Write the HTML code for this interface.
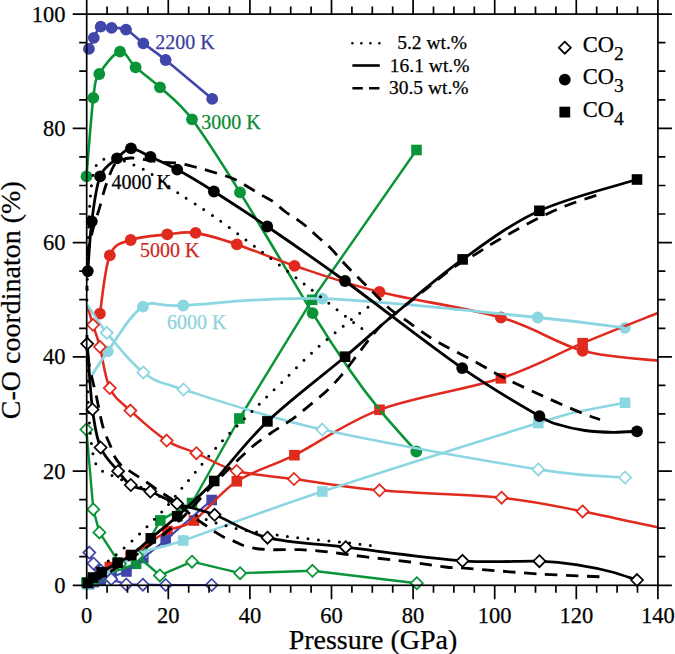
<!DOCTYPE html>
<html><head><meta charset="utf-8"><title>C-O coordination</title>
<style>
html,body{margin:0;padding:0;background:#fff;}
body{width:675px;height:654px;overflow:hidden;}
svg{display:block;}
text{font-family:"Liberation Serif",serif;stroke-width:0.25px;}
text:not([stroke]){stroke:#000;}
.tl{font-size:22.5px;}
.at{font-size:28px;}
.tk{font-size:20px;}
.lg{font-size:19.5px;}
.co{font-size:22.5px;}
.sub{font-size:19.5px;}
</style></head>
<body>
<svg width="675" height="654" viewBox="0 0 675 654">
<rect x="82.3" y="577.7" width="10.6" height="10.6" fill="#e02a1e"/><rect x="87.7" y="573.7" width="10.6" height="10.6" fill="#e02a1e"/><rect x="94.6" y="568.7" width="10.6" height="10.6" fill="#e02a1e"/><rect x="104.5" y="561.7" width="10.6" height="10.6" fill="#e02a1e"/><rect x="125.2" y="550.7" width="10.6" height="10.6" fill="#e02a1e"/><rect x="162.2" y="525.7" width="10.6" height="10.6" fill="#e02a1e"/><rect x="188.7" y="515.2" width="10.6" height="10.6" fill="#e02a1e"/><rect x="231.5" y="476" width="10.6" height="10.6" fill="#e02a1e"/><rect x="289.1" y="449.9" width="10.6" height="10.6" fill="#e02a1e"/><rect x="374.2" y="404.5" width="10.6" height="10.6" fill="#e02a1e"/><rect x="495.6" y="373" width="10.6" height="10.6" fill="#e02a1e"/><rect x="577.3" y="337.9" width="10.6" height="10.6" fill="#e02a1e"/>
<circle cx="99.9" cy="313.7" r="5.9" fill="#e02a1e"/><circle cx="109.8" cy="255.4" r="5.9" fill="#e02a1e"/><circle cx="130.7" cy="240" r="5.9" fill="#e02a1e"/><circle cx="167.3" cy="234.4" r="5.9" fill="#e02a1e"/><circle cx="195.6" cy="232.9" r="5.9" fill="#e02a1e"/><circle cx="236.9" cy="244.4" r="5.9" fill="#e02a1e"/><circle cx="294.5" cy="265.8" r="5.9" fill="#e02a1e"/><circle cx="379.5" cy="292" r="5.9" fill="#e02a1e"/><circle cx="500.9" cy="317.5" r="5.9" fill="#e02a1e"/><circle cx="582.6" cy="350.8" r="5.9" fill="#e02a1e"/>
<rect x="83.6" y="578.7" width="10.6" height="10.6" fill="#4046aa"/><rect x="88.5" y="576.7" width="10.6" height="10.6" fill="#4046aa"/><rect x="95.4" y="574.7" width="10.6" height="10.6" fill="#4046aa"/><rect x="106.3" y="571.7" width="10.6" height="10.6" fill="#4046aa"/><rect x="121.2" y="566.2" width="10.6" height="10.6" fill="#4046aa"/><rect x="138" y="552.7" width="10.6" height="10.6" fill="#4046aa"/><rect x="160.4" y="534.7" width="10.6" height="10.6" fill="#4046aa"/><rect x="206.4" y="494.7" width="10.6" height="10.6" fill="#4046aa"/>
<circle cx="88.9" cy="48.9" r="5.9" fill="#4046aa"/><circle cx="93.8" cy="37.8" r="5.9" fill="#4046aa"/><circle cx="100.7" cy="26.7" r="5.9" fill="#4046aa"/><circle cx="111.6" cy="27.8" r="5.9" fill="#4046aa"/><circle cx="126" cy="29.6" r="5.9" fill="#4046aa"/><circle cx="143.3" cy="43.3" r="5.9" fill="#4046aa"/><circle cx="165.6" cy="60" r="5.9" fill="#4046aa"/><circle cx="212.2" cy="98.9" r="5.9" fill="#4046aa"/>
<rect x="81.2" y="577.2" width="10.6" height="10.6" fill="#0a9438"/><rect x="87.7" y="574.7" width="10.6" height="10.6" fill="#0a9438"/><rect x="94.7" y="571.2" width="10.6" height="10.6" fill="#0a9438"/><rect x="130.8" y="558.5" width="10.6" height="10.6" fill="#0a9438"/><rect x="155" y="515.1" width="10.6" height="10.6" fill="#0a9438"/><rect x="186.7" y="497.7" width="10.6" height="10.6" fill="#0a9438"/><rect x="234.1" y="413.2" width="10.6" height="10.6" fill="#0a9438"/><rect x="306.8" y="294.5" width="10.6" height="10.6" fill="#0a9438"/><rect x="411.2" y="144.7" width="10.6" height="10.6" fill="#0a9438"/>
<circle cx="86.5" cy="176.4" r="5.9" fill="#0a9438"/><circle cx="93.3" cy="97.8" r="5.9" fill="#0a9438"/><circle cx="99.3" cy="74" r="5.9" fill="#0a9438"/><circle cx="120" cy="51.6" r="5.9" fill="#0a9438"/><circle cx="135.6" cy="67.3" r="5.9" fill="#0a9438"/><circle cx="160" cy="87.3" r="5.9" fill="#0a9438"/><circle cx="192" cy="119.3" r="5.9" fill="#0a9438"/><circle cx="240" cy="192.4" r="5.9" fill="#0a9438"/><circle cx="312.6" cy="313.1" r="5.9" fill="#0a9438"/><circle cx="416.3" cy="451.5" r="5.9" fill="#0a9438"/>
<rect x="82.2" y="579.2" width="10.6" height="10.6" fill="#8cd6e2"/><rect x="102.5" y="568.7" width="10.6" height="10.6" fill="#8cd6e2"/><rect x="136.7" y="547.2" width="10.6" height="10.6" fill="#8cd6e2"/><rect x="177.9" y="535.2" width="10.6" height="10.6" fill="#8cd6e2"/><rect x="317" y="486.2" width="10.6" height="10.6" fill="#8cd6e2"/><rect x="533" y="417.7" width="10.6" height="10.6" fill="#8cd6e2"/><rect x="619.7" y="397.5" width="10.6" height="10.6" fill="#8cd6e2"/>
<circle cx="107.8" cy="351.4" r="5.9" fill="#8cd6e2"/><circle cx="142.9" cy="306.7" r="5.9" fill="#8cd6e2"/><circle cx="183.3" cy="305.5" r="5.9" fill="#8cd6e2"/><circle cx="322.4" cy="298.6" r="5.9" fill="#8cd6e2"/><circle cx="537.8" cy="317.5" r="5.9" fill="#8cd6e2"/><circle cx="625" cy="327.8" r="5.9" fill="#8cd6e2"/>
<path d="M89.3 552.6 L93.5 563.5 L100.7 570.5 L111.2 579 L126.3 584.5 L142.9 584.7 L165.7 585 L211.7 585" fill="none" stroke="#4046aa" stroke-width="2.2" stroke-linecap="butt" stroke-linejoin="round"/>
<path d="M88.9 584 L93.8 582 L100.7 580 L111.6 577 L126.5 571.5 L143.3 558 L165.7 540 L211.7 500" fill="none" stroke="#4046aa" stroke-width="2.2" stroke-linecap="butt" stroke-linejoin="round"/>
<path d="M88.9 48.9 C89.7 47 91.8 41.5 93.8 37.8 C95.8 34.1 97.7 28.4 100.7 26.7 C103.7 25 107.4 27.3 111.6 27.8 C115.8 28.3 120.7 27 126 29.6 C131.3 32.2 136.7 38.2 143.3 43.3 C149.9 48.4 154.1 50.7 165.6 60 C177.1 69.3 204.4 92.4 212.2 98.9" fill="none" stroke="#4046aa" stroke-width="2.6" stroke-linecap="butt" stroke-linejoin="round"/>
<path d="M86.4 429.5 L93.3 509.4 L99.4 532.4 L120 564 L137 555.5 L159.9 575.4 L192 561.7 L240.1 573.2 L312.5 570.8 L416.8 583.2" fill="none" stroke="#0a9438" stroke-width="2.4" stroke-linecap="butt" stroke-linejoin="round"/>
<path d="M86.5 582.5 L93 580 L100 576.5 L136.1 563.8 L160.3 520.4 L192 503 L239.4 418.5 L312.1 299.8 L416.5 150" fill="none" stroke="#0a9438" stroke-width="2.4" stroke-linecap="butt" stroke-linejoin="round"/>
<path d="M86.5 176.4 C87.6 163.3 91.2 114.9 93.3 97.8 C95.4 80.7 94.8 81.7 99.3 74 C103.8 66.3 114 52.7 120 51.6 C126 50.5 128.9 61.3 135.6 67.3 C142.3 73.2 150.6 78.6 160 87.3 C169.4 96 178.7 101.8 192 119.3 C205.3 136.8 219.9 160.1 240 192.4 C260.1 224.7 294.3 283.5 312.6 313.1 C330.9 342.7 338.6 353.9 349.7 370 C360.8 386.1 368.2 395.8 379.3 409.4 C390.4 423 410.1 444.5 416.3 451.5" fill="none" stroke="#0a9438" stroke-width="2.6" stroke-linecap="butt" stroke-linejoin="round"/>
<path d="M87.6 307 C88.5 310 91 318.2 93 324.8 C95 331.4 97.1 336.2 99.9 346.8 C102.7 357.4 104.7 377.5 109.8 388.1 C114.9 398.7 120.9 401.9 130.4 410.6 C139.9 419.4 155.7 433.5 166.7 440.6 C177.7 447.7 184.7 448.1 196.4 453.2 C208.1 458.3 220.4 466.7 236.7 471 C253 475.3 270.2 475.8 294 479 C317.8 482.2 344.9 487.2 379.5 490.3 C414.1 493.4 467.8 494.2 501.6 497.7 C535.5 501.2 556.6 506.4 582.6 511.4 C608.6 516.4 645.4 524.7 657.9 527.4" fill="none" stroke="#e02a1e" stroke-width="2.5" stroke-linecap="butt" stroke-linejoin="round"/>
<path d="M87.6 583 C88.5 582.3 91 580.5 93 579 C95 577.5 97.1 576 99.9 574 C102.7 572 104.7 570 109.8 567 C114.9 564 120.9 562 130.5 556 C140.1 550 156.9 536.9 167.5 531 C178.1 525.1 182.4 528.8 194 520.5 C205.6 512.2 220.1 492.2 236.8 481.3 C253.5 470.4 270.6 467.1 294.4 455.2 C318.2 443.3 345.1 422.6 379.5 409.8 C413.9 397 467 389.4 500.9 378.3 C534.8 367.2 556.4 354.1 582.6 343.2 C608.8 332.3 645.4 318 657.9 313" fill="none" stroke="#e02a1e" stroke-width="2.5" stroke-linecap="butt" stroke-linejoin="round"/>
<path d="M99.9 313.7 C101.6 304 104.7 267.7 109.8 255.4 C114.9 243.1 121.1 243.5 130.7 240 C140.3 236.5 156.5 235.6 167.3 234.4 C178.1 233.2 184 231.2 195.6 232.9 C207.2 234.6 220.4 238.9 236.9 244.4 C253.4 249.9 270.7 257.9 294.5 265.8 C318.3 273.7 345.1 283.4 379.5 292 C413.9 300.6 467 307.7 500.9 317.5 C534.8 327.3 556.4 343.6 582.6 350.8 C608.8 358 645.4 359 657.9 360.6" fill="none" stroke="#e02a1e" stroke-width="2.6" stroke-linecap="butt" stroke-linejoin="round"/>
<path d="M87.6 305 C90.8 309.6 97.5 321.6 106.8 332.8 C116.1 344.1 130.6 363.1 143.4 372.5 C156.2 381.9 153.7 380 183.5 389.5 C213.3 399 263.2 416.3 322.3 429.6 C381.4 442.9 487.8 461.4 538.3 469.4 C588.8 477.4 610.6 476.1 625.1 477.5" fill="none" stroke="#8cd6e2" stroke-width="2.6" stroke-linecap="butt" stroke-linejoin="round"/>
<path d="M87.5 584.5 C90.9 582.8 98.7 579.3 107.8 574 C116.9 568.7 129.4 558.1 142 552.5 C154.6 546.9 153.1 550.7 183.2 540.5 C213.2 530.3 263.1 511.1 322.3 491.5 C381.5 471.9 495 436.4 538.3 423 C581.6 409.6 567.5 414.4 582 411 C596.5 407.6 617.8 404.2 625 402.8" fill="none" stroke="#8cd6e2" stroke-width="2.6" stroke-linecap="butt" stroke-linejoin="round"/>
<path d="M87.2 383 C90.6 377.7 98.5 364.1 107.8 351.4 C117.1 338.7 130.3 314.3 142.9 306.7 C155.5 299.1 153.4 306.9 183.3 305.5 C213.2 304.1 263.3 296.6 322.4 298.6 C381.5 300.6 487.4 312.6 537.8 317.5 C588.2 322.4 610.5 326.1 625 327.8" fill="none" stroke="#8cd6e2" stroke-width="2.8" stroke-linecap="butt" stroke-linejoin="round"/>
<path d="M93 318.8 L99 324.8 L93 330.8 L87 324.8 Z" fill="#fff" stroke="#e02a1e" stroke-width="1.75"/><path d="M99.9 340.8 L105.9 346.8 L99.9 352.8 L93.9 346.8 Z" fill="#fff" stroke="#e02a1e" stroke-width="1.75"/><path d="M109.8 382.1 L115.8 388.1 L109.8 394.1 L103.8 388.1 Z" fill="#fff" stroke="#e02a1e" stroke-width="1.75"/><path d="M130.4 404.6 L136.4 410.6 L130.4 416.6 L124.4 410.6 Z" fill="#fff" stroke="#e02a1e" stroke-width="1.75"/><path d="M166.7 434.6 L172.7 440.6 L166.7 446.6 L160.7 440.6 Z" fill="#fff" stroke="#e02a1e" stroke-width="1.75"/><path d="M196.4 447.2 L202.4 453.2 L196.4 459.2 L190.4 453.2 Z" fill="#fff" stroke="#e02a1e" stroke-width="1.75"/><path d="M236.7 465 L242.7 471 L236.7 477 L230.7 471 Z" fill="#fff" stroke="#e02a1e" stroke-width="1.75"/><path d="M294 473 L300 479 L294 485 L288 479 Z" fill="#fff" stroke="#e02a1e" stroke-width="1.75"/><path d="M379.5 484.3 L385.5 490.3 L379.5 496.3 L373.5 490.3 Z" fill="#fff" stroke="#e02a1e" stroke-width="1.75"/><path d="M501.6 491.7 L507.6 497.7 L501.6 503.7 L495.6 497.7 Z" fill="#fff" stroke="#e02a1e" stroke-width="1.75"/><path d="M582.6 505.4 L588.6 511.4 L582.6 517.4 L576.6 511.4 Z" fill="#fff" stroke="#e02a1e" stroke-width="1.75"/>
<path d="M89.3 546.6 L95.3 552.6 L89.3 558.6 L83.3 552.6 Z" fill="#fff" stroke="#4046aa" stroke-width="1.75"/><path d="M93.5 557.5 L99.5 563.5 L93.5 569.5 L87.5 563.5 Z" fill="#fff" stroke="#4046aa" stroke-width="1.75"/><path d="M100.7 564.5 L106.7 570.5 L100.7 576.5 L94.7 570.5 Z" fill="#fff" stroke="#4046aa" stroke-width="1.75"/><path d="M111.2 573 L117.2 579 L111.2 585 L105.2 579 Z" fill="#fff" stroke="#4046aa" stroke-width="1.75"/><path d="M126.3 578.5 L132.3 584.5 L126.3 590.5 L120.3 584.5 Z" fill="#fff" stroke="#4046aa" stroke-width="1.75"/><path d="M142.9 578.7 L148.9 584.7 L142.9 590.7 L136.9 584.7 Z" fill="#fff" stroke="#4046aa" stroke-width="1.75"/><path d="M165.7 579 L171.7 585 L165.7 591 L159.7 585 Z" fill="#fff" stroke="#4046aa" stroke-width="1.75"/><path d="M211.7 579 L217.7 585 L211.7 591 L205.7 585 Z" fill="#fff" stroke="#4046aa" stroke-width="1.75"/>
<path d="M86.4 423.5 L92.4 429.5 L86.4 435.5 L80.4 429.5 Z" fill="#fff" stroke="#0a9438" stroke-width="1.75"/><path d="M93.3 503.4 L99.3 509.4 L93.3 515.4 L87.3 509.4 Z" fill="#fff" stroke="#0a9438" stroke-width="1.75"/><path d="M99.4 526.4 L105.4 532.4 L99.4 538.4 L93.4 532.4 Z" fill="#fff" stroke="#0a9438" stroke-width="1.75"/><path d="M120 558 L126 564 L120 570 L114 564 Z" fill="#fff" stroke="#0a9438" stroke-width="1.75"/><path d="M137 549.5 L143 555.5 L137 561.5 L131 555.5 Z" fill="#fff" stroke="#0a9438" stroke-width="1.75"/><path d="M159.9 569.4 L165.9 575.4 L159.9 581.4 L153.9 575.4 Z" fill="#fff" stroke="#0a9438" stroke-width="1.75"/><path d="M192 555.7 L198 561.7 L192 567.7 L186 561.7 Z" fill="#fff" stroke="#0a9438" stroke-width="1.75"/><path d="M240.1 567.2 L246.1 573.2 L240.1 579.2 L234.1 573.2 Z" fill="#fff" stroke="#0a9438" stroke-width="1.75"/><path d="M312.5 564.8 L318.5 570.8 L312.5 576.8 L306.5 570.8 Z" fill="#fff" stroke="#0a9438" stroke-width="1.75"/><path d="M416.8 577.2 L422.8 583.2 L416.8 589.2 L410.8 583.2 Z" fill="#fff" stroke="#0a9438" stroke-width="1.75"/>
<path d="M106.8 326.8 L112.8 332.8 L106.8 338.8 L100.8 332.8 Z" fill="#fff" stroke="#8cd6e2" stroke-width="1.75"/><path d="M143.4 366.5 L149.4 372.5 L143.4 378.5 L137.4 372.5 Z" fill="#fff" stroke="#8cd6e2" stroke-width="1.75"/><path d="M183.5 383.5 L189.5 389.5 L183.5 395.5 L177.5 389.5 Z" fill="#fff" stroke="#8cd6e2" stroke-width="1.75"/><path d="M322.3 423.6 L328.3 429.6 L322.3 435.6 L316.3 429.6 Z" fill="#fff" stroke="#8cd6e2" stroke-width="1.75"/><path d="M538.3 463.4 L544.3 469.4 L538.3 475.4 L532.3 469.4 Z" fill="#fff" stroke="#8cd6e2" stroke-width="1.75"/><path d="M625.1 471.5 L631.1 477.5 L625.1 483.5 L619.1 477.5 Z" fill="#fff" stroke="#8cd6e2" stroke-width="1.75"/>
<path d="M86.9 300 C87.2 288.3 87.7 249.2 88.5 230 C89.3 210.8 90.2 195.7 91.5 185 C92.8 174.3 94.1 170.2 96 166 C97.9 161.8 99.7 160.8 103 159.5 C106.3 158.2 111 157.7 116 158.5 C121 159.3 127.1 161.9 132.9 164.5 C138.7 167.1 143.6 169.2 151 173.9 C158.4 178.6 167.2 185.6 177.6 192.6 C188 199.6 200.4 207 213.4 216.1 C226.4 225.2 240.7 236 255.6 247.2 C270.5 258.3 287.4 271 303 283 C318.6 295 337.7 310.3 349 319 C360.3 327.7 367.3 332.3 371 335" fill="none" stroke="#000" stroke-width="3.0" stroke-linecap="round" stroke-linejoin="round" stroke-dasharray="0 10.4"/>
<path d="M86.9 350 C87.1 358.1 87.5 385.5 88 398.8 C88.5 412.1 89.2 421.2 90 430 C90.8 438.8 91.7 446 92.5 451.3 C93.3 456.6 93.7 458.9 95 462 C96.3 465.1 97.8 467.6 100.2 469.7 C102.6 471.8 106.1 472.8 109.3 474.3 C112.5 475.8 115.7 477.4 119.3 478.9 C122.9 480.4 125.7 481.5 130.8 483.5 C135.9 485.5 142.2 487.4 149.9 491.1 C157.6 494.9 167.7 501.3 177 506 C186.3 510.7 196.1 515.6 206 519.4 C215.9 523.1 226.2 526.1 236.4 528.5 C246.6 530.9 256.4 531.9 267 533.5 C277.6 535.1 287 536.5 300 538 C313 539.5 332.7 541.2 345 542.5 C357.3 543.8 369.2 545.4 374 546" fill="none" stroke="#000" stroke-width="3.0" stroke-linecap="round" stroke-linejoin="round" stroke-dasharray="0 10.4"/>
<path d="M86.9 584 C89.8 580.8 98.7 570.2 104.2 564.8 C109.7 559.4 114.8 556 120.1 551.4 C125.4 546.8 130.9 542 136.1 537.2 C141.3 532.4 146.2 527.4 151.2 522.4 C156.1 517.4 159.8 514.2 165.8 507.5 C171.8 500.8 177.7 493.1 187 482.2 C196.3 471.3 210.7 453.6 221.4 441.9 C232.1 430.2 241.1 422 251.2 412.1 C261.3 402.2 271.2 392.7 281.8 382.3 C292.4 371.9 303.8 360.1 315 350 C326.2 339.9 339.7 329 349 321.5 C358.3 314 367.3 307.8 371 305" fill="none" stroke="#000" stroke-width="3.0" stroke-linecap="round" stroke-linejoin="round" stroke-dasharray="0 10.4"/>
<path d="M86.9 290 C87.2 283.3 87.7 259.2 88.5 250 C89.3 240.8 90.4 239.7 91.5 235 C92.6 230.3 93.7 226.6 95 222 C96.3 217.4 97.9 213.5 99.6 207.6 C101.3 201.7 103.1 193.7 105.4 186.8 C107.7 179.9 111.1 170.5 113.6 166.1 C116.1 161.7 117.5 161.9 120.5 160.6 C123.5 159.2 124.9 157.8 131.5 158 C138.1 158.2 151.9 161.1 160 162 C168.1 162.9 172.8 162.2 180 163.4 C187.2 164.6 195.3 167.1 203 169.2 C210.7 171.3 220.3 174.2 225.9 176 C231.5 177.8 232.8 178.3 236.7 180.2 C240.5 182.1 244.8 185 249 187.5 C253.2 190 257.9 192.9 262 195.3 C266.1 197.7 269.9 199.3 273.7 202 C277.5 204.7 281.1 208.6 285 211.5 C288.9 214.4 293.6 217.1 297.3 219.7 C301 222.3 303.9 224.4 307.4 227.3 C310.8 230.2 314.2 233.6 318 237 C321.8 240.4 325.6 243.2 330 247.6 C334.4 252 339.4 258.3 344.3 263.5 C349.2 268.7 354.3 273.6 359.4 278.7 C364.4 283.8 369.5 288.8 374.6 293.8 C379.7 298.9 384.7 304.5 390 309 C395.3 313.5 400.8 316.6 406.5 320.7 C412.2 324.8 419.3 330 424.2 333.4 C429.1 336.8 431.4 338.3 436 341 C440.6 343.7 445.4 346.2 451.6 349.5 C457.8 352.8 464.1 355.7 473 360.5 C481.9 365.3 493.6 372.5 505 378.3 C516.5 384.1 529.5 389.9 541.7 395.5 C553.9 401.1 568.7 407.6 578.4 411.6 C588.1 415.6 596.4 418.3 600 419.6" fill="none" stroke="#000" stroke-width="2.8" stroke-linecap="butt" stroke-linejoin="round" stroke-dasharray="12.4 8.6" stroke-dashoffset="8"/>
<path d="M86.9 335 C87.2 339.2 87.8 353.4 88.5 360 C89.2 366.6 90.4 370.3 91.2 374.4 C92 378.4 92.7 381.1 93.5 384.3 C94.3 387.5 95 390.2 95.8 393.5 C96.5 396.8 97.2 400.5 98 404.2 C98.8 407.9 99.5 412.1 100.3 415.7 C101.1 419.3 101.7 422.4 102.6 425.6 C103.5 428.8 104.7 432.2 105.7 434.8 C106.7 437.4 107.6 439.4 108.5 441.5 C109.4 443.6 110 444.7 110.9 447.1 C111.8 449.5 112.3 452.6 114 455.7 C115.7 458.8 118.9 463.1 121.3 465.5 C123.7 467.9 125.6 468.5 128.6 470.4 C131.5 472.3 136 475.2 139 477.1 C142 479 143.4 480 146.4 482 C149.4 484 153.9 487.3 156.8 489.3 C159.8 491.3 161.3 492.4 164.1 494.2 C166.8 496 169.8 497.7 173.3 500.3 C176.8 502.9 180.8 506.6 185 510 C189.2 513.4 194.5 517.6 198.3 520.4 C202.1 523.2 205.2 525 208 527 C210.8 529 212.5 530.4 215.4 532.2 C218.3 534.1 222.6 536.6 225.7 538.1 C228.8 539.6 230.6 539.7 233.9 541.1 C237.2 542.5 240.5 544.9 245.7 546.3 C250.9 547.7 255.9 548.9 265 549.5 C274.1 550.1 290 549.4 300 549.7 C310 550.1 317.3 550.8 325 551.6 C332.7 552.4 339.2 553.4 346 554.3 C352.8 555.2 355.3 555.6 366 556.9 C376.7 558.2 396.8 560.3 410 562 C423.2 563.7 435.4 565.9 445 567 C454.6 568.1 451.5 567.2 467.3 568.4 C483.1 569.6 517.8 572.6 540 574 C562.2 575.4 590.5 576.3 600.6 576.8" fill="none" stroke="#000" stroke-width="2.8" stroke-linecap="butt" stroke-linejoin="round" stroke-dasharray="12.4 8.6" stroke-dashoffset="1.5"/>
<path d="M86.9 585 C90.8 582.8 99.5 578.7 110 572 C120.5 565.3 138.3 553.7 150 545 C161.7 536.3 170 529.5 180 520 C190 510.5 200.8 497.6 210 488 C219.2 478.4 227.9 469.7 235.2 462.6 C242.4 455.6 247.7 450.6 253.5 445.7 C259.4 440.8 264.9 437.2 270.3 433.5 C275.7 429.8 281.8 426.2 286.1 423.3 C290.4 420.4 291.6 419.8 296.1 416.4 C300.6 412.9 307.4 407.2 312.9 402.6 C318.4 398 323.8 393.9 328.9 388.9 C334 383.9 338.9 378.3 343.5 372.8 C348.1 367.3 352.2 361.6 356.5 356 C360.8 350.4 365.3 344.3 369.4 339.2 C373.5 334.1 377.1 329.4 381 325.5 C384.9 321.6 389.3 318.6 393 315.5 C396.7 312.4 397.8 311.4 403.4 307 C408.9 302.6 418.6 294.9 426.3 288.8 C434 282.7 443.2 275.1 449.3 270.5 C455.4 265.9 458.3 264.2 462.6 261.5 C466.9 258.8 471.3 256.8 475.3 254.4 C479.3 252 483.3 249.2 486.7 247.1 C490.1 244.9 490.5 244.6 495.9 241.5 C501.2 238.4 511.2 232.7 518.8 228.5 C526.4 224.3 534.1 220.2 541.7 216.5 C549.4 212.8 557.1 209.2 564.7 206.2 C572.4 203.1 581.6 200.2 587.6 198.2 C593.6 196.2 598.8 194.7 601 194" fill="none" stroke="#000" stroke-width="2.8" stroke-linecap="butt" stroke-linejoin="round" stroke-dasharray="12.4 8.6" stroke-dashoffset="-6"/>
<path d="M87.2 343.8 C88.1 354.8 90.3 392.2 92.5 409.5 C94.7 426.8 96.3 437.2 100.6 447.5 C104.9 457.8 113.1 464.9 118.1 471.2 C123.1 477.4 125.4 481.6 130.8 485 C136.2 488.4 142.7 488.4 150.4 491.5 C158.1 494.6 166.4 499.7 177.1 503.6 C187.8 507.5 199.5 509.1 214.6 514.8 C229.7 520.5 245.7 532.3 267.5 537.7 C289.4 543.1 313.2 543.4 345.7 547.2 C378.2 551.1 430.2 558.5 462.5 560.8 C494.8 563.1 519.8 560.5 539.4 561.2 C559 562 567.9 563.5 580 565.3 C592.1 567.1 602.5 569.5 612 572 C621.5 574.5 632.8 578.8 637 580.1" fill="none" stroke="#000" stroke-width="2.8" stroke-linecap="butt" stroke-linejoin="round"/>
<path d="M87.6 583 C88.5 582.1 90.7 579.3 93 577.5 C95.3 575.7 97.5 574.7 101.6 572.2 C105.7 569.7 112.6 565.6 117.6 562.7 C122.5 559.8 125.8 559.1 131.3 555 C136.8 550.9 143.2 544.8 150.8 538.3 C158.5 531.8 166.6 525.8 177.2 516.2 C187.8 506.7 199.2 496.8 214.2 481 C229.2 465.2 245.6 442.1 267.4 421.4 C289.2 400.7 324.2 374.3 345.1 356.7 C366 339.1 373.4 331.7 393 315.5 C412.6 299.3 438.2 276.8 462.6 259.4 C487 241.9 510.3 224.1 539.4 210.8 C568.5 197.5 620.7 184.7 637 179.5" fill="none" stroke="#000" stroke-width="2.8" stroke-linecap="butt" stroke-linejoin="round"/>
<path d="M87.8 271.1 C88.5 262.8 89.8 237.1 91.8 221.3 C93.8 205.5 95.9 186.9 100.1 176.4 C104.3 165.9 111.8 163.1 117 158.4 C122.2 153.7 125.4 148.6 131 148.3 C136.6 148.1 142.8 153.4 150.5 156.9 C158.2 160.4 166.6 163.8 177.2 169.6 C187.8 175.4 198.9 182 213.9 191.5 C228.9 201 245.3 211.6 267.2 226.5 C289.1 241.4 312.5 257.4 345 281 C377.5 304.6 429.8 345.6 462.2 368.1 C494.6 390.6 523.1 406.6 539.4 416.1 C555.7 425.6 552.4 422.6 560 425 C567.6 427.4 576.2 429.3 585 430.5 C593.8 431.7 604.3 432.2 613 432.3 C621.7 432.4 633 431.5 637 431.3" fill="none" stroke="#000" stroke-width="2.8" stroke-linecap="butt" stroke-linejoin="round"/>
<path d="M87.2 337.8 L93.2 343.8 L87.2 349.8 L81.2 343.8 Z" fill="#fff" stroke="#000" stroke-width="1.75"/><path d="M92.5 403.5 L98.5 409.5 L92.5 415.5 L86.5 409.5 Z" fill="#fff" stroke="#000" stroke-width="1.75"/><path d="M100.6 441.5 L106.6 447.5 L100.6 453.5 L94.6 447.5 Z" fill="#fff" stroke="#000" stroke-width="1.75"/><path d="M118.1 465.2 L124.1 471.2 L118.1 477.2 L112.1 471.2 Z" fill="#fff" stroke="#000" stroke-width="1.75"/><path d="M130.8 479 L136.8 485 L130.8 491 L124.8 485 Z" fill="#fff" stroke="#000" stroke-width="1.75"/><path d="M150.4 485.5 L156.4 491.5 L150.4 497.5 L144.4 491.5 Z" fill="#fff" stroke="#000" stroke-width="1.75"/><path d="M177.1 497.6 L183.1 503.6 L177.1 509.6 L171.1 503.6 Z" fill="#fff" stroke="#000" stroke-width="1.75"/><path d="M214.6 508.8 L220.6 514.8 L214.6 520.8 L208.6 514.8 Z" fill="#fff" stroke="#000" stroke-width="1.75"/><path d="M267.5 531.7 L273.5 537.7 L267.5 543.7 L261.5 537.7 Z" fill="#fff" stroke="#000" stroke-width="1.75"/><path d="M345.7 541.2 L351.7 547.2 L345.7 553.2 L339.7 547.2 Z" fill="#fff" stroke="#000" stroke-width="1.75"/><path d="M462.5 554.8 L468.5 560.8 L462.5 566.8 L456.5 560.8 Z" fill="#fff" stroke="#000" stroke-width="1.75"/><path d="M539.4 555.2 L545.4 561.2 L539.4 567.2 L533.4 561.2 Z" fill="#fff" stroke="#000" stroke-width="1.75"/><path d="M637 574.1 L643 580.1 L637 586.1 L631 580.1 Z" fill="#fff" stroke="#000" stroke-width="1.75"/>
<rect x="82.3" y="577.7" width="10.6" height="10.6" fill="#000"/><rect x="87.7" y="572.2" width="10.6" height="10.6" fill="#000"/><rect x="96.3" y="566.9" width="10.6" height="10.6" fill="#000"/><rect x="112.3" y="557.4" width="10.6" height="10.6" fill="#000"/><rect x="126" y="549.7" width="10.6" height="10.6" fill="#000"/><rect x="145.5" y="533" width="10.6" height="10.6" fill="#000"/><rect x="171.9" y="510.9" width="10.6" height="10.6" fill="#000"/><rect x="208.9" y="475.7" width="10.6" height="10.6" fill="#000"/><rect x="262.1" y="416.1" width="10.6" height="10.6" fill="#000"/><rect x="339.8" y="351.4" width="10.6" height="10.6" fill="#000"/><rect x="457.3" y="254.1" width="10.6" height="10.6" fill="#000"/><rect x="534.1" y="205.5" width="10.6" height="10.6" fill="#000"/><rect x="631.7" y="174.2" width="10.6" height="10.6" fill="#000"/>
<circle cx="87.8" cy="271.1" r="5.9" fill="#000"/><circle cx="91.8" cy="221.3" r="5.9" fill="#000"/><circle cx="100.1" cy="176.4" r="5.9" fill="#000"/><circle cx="117" cy="158.4" r="5.9" fill="#000"/><circle cx="131" cy="148.3" r="5.9" fill="#000"/><circle cx="150.5" cy="156.9" r="5.9" fill="#000"/><circle cx="177.2" cy="169.6" r="5.9" fill="#000"/><circle cx="213.9" cy="191.5" r="5.9" fill="#000"/><circle cx="267.2" cy="226.5" r="5.9" fill="#000"/><circle cx="345" cy="281" r="5.9" fill="#000"/><circle cx="462.2" cy="368.1" r="5.9" fill="#000"/><circle cx="539.4" cy="416.1" r="5.9" fill="#000"/><circle cx="637" cy="431.3" r="5.9" fill="#000"/>
<rect x="86.7" y="14.1" width="571.2" height="571.2" fill="none" stroke="#000" stroke-width="1.7"/>
<path d="M86.7 585.3 V599.3 M86.7 14.1 V0.1 M107.1 585.3 V592.8 M107.1 14.1 V6.6 M127.5 585.3 V592.8 M127.5 14.1 V6.6 M147.9 585.3 V592.8 M147.9 14.1 V6.6 M168.3 585.3 V599.3 M168.3 14.1 V0.1 M188.7 585.3 V592.8 M188.7 14.1 V6.6 M209.1 585.3 V592.8 M209.1 14.1 V6.6 M229.5 585.3 V592.8 M229.5 14.1 V6.6 M249.9 585.3 V599.3 M249.9 14.1 V0.1 M270.3 585.3 V592.8 M270.3 14.1 V6.6 M290.7 585.3 V592.8 M290.7 14.1 V6.6 M311.1 585.3 V592.8 M311.1 14.1 V6.6 M331.5 585.3 V599.3 M331.5 14.1 V0.1 M351.9 585.3 V592.8 M351.9 14.1 V6.6 M372.3 585.3 V592.8 M372.3 14.1 V6.6 M392.7 585.3 V592.8 M392.7 14.1 V6.6 M413.1 585.3 V599.3 M413.1 14.1 V0.1 M433.5 585.3 V592.8 M433.5 14.1 V6.6 M453.9 585.3 V592.8 M453.9 14.1 V6.6 M474.3 585.3 V592.8 M474.3 14.1 V6.6 M494.7 585.3 V599.3 M494.7 14.1 V0.1 M515.1 585.3 V592.8 M515.1 14.1 V6.6 M535.5 585.3 V592.8 M535.5 14.1 V6.6 M555.9 585.3 V592.8 M555.9 14.1 V6.6 M576.3 585.3 V599.3 M576.3 14.1 V0.1 M596.7 585.3 V592.8 M596.7 14.1 V6.6 M617.1 585.3 V592.8 M617.1 14.1 V6.6 M637.5 585.3 V592.8 M637.5 14.1 V6.6 M657.9 585.3 V599.3 M657.9 14.1 V0.1 M86.7 585.3 H72.7 M657.9 585.3 H671.9 M86.7 556.7 H79.2 M657.9 556.7 H665.4 M86.7 528.2 H79.2 M657.9 528.2 H665.4 M86.7 499.6 H79.2 M657.9 499.6 H665.4 M86.7 471.1 H72.7 M657.9 471.1 H671.9 M86.7 442.5 H79.2 M657.9 442.5 H665.4 M86.7 413.9 H79.2 M657.9 413.9 H665.4 M86.7 385.4 H79.2 M657.9 385.4 H665.4 M86.7 356.8 H72.7 M657.9 356.8 H671.9 M86.7 328.3 H79.2 M657.9 328.3 H665.4 M86.7 299.7 H79.2 M657.9 299.7 H665.4 M86.7 271.1 H79.2 M657.9 271.1 H665.4 M86.7 242.6 H72.7 M657.9 242.6 H671.9 M86.7 214 H79.2 M657.9 214 H665.4 M86.7 185.5 H79.2 M657.9 185.5 H665.4 M86.7 156.9 H79.2 M657.9 156.9 H665.4 M86.7 128.3 H72.7 M657.9 128.3 H671.9 M86.7 99.8 H79.2 M657.9 99.8 H665.4 M86.7 71.2 H79.2 M657.9 71.2 H665.4 M86.7 42.7 H79.2 M657.9 42.7 H665.4 M86.7 14.1 H72.7 M657.9 14.1 H671.9" stroke="#000" stroke-width="1.7" fill="none"/>
<text x="86.7" y="622.8" text-anchor="middle" class="tl">0</text>
<text x="168.3" y="622.8" text-anchor="middle" class="tl">20</text>
<text x="249.9" y="622.8" text-anchor="middle" class="tl">40</text>
<text x="331.5" y="622.8" text-anchor="middle" class="tl">60</text>
<text x="413.1" y="622.8" text-anchor="middle" class="tl">80</text>
<text x="494.7" y="622.8" text-anchor="middle" class="tl">100</text>
<text x="576.3" y="622.8" text-anchor="middle" class="tl">120</text>
<text x="657.9" y="622.8" text-anchor="middle" class="tl">140</text>
<text x="65.6" y="592.9" text-anchor="end" class="tl">0</text>
<text x="65.6" y="478.7" text-anchor="end" class="tl">20</text>
<text x="65.6" y="364.4" text-anchor="end" class="tl">40</text>
<text x="65.6" y="250.2" text-anchor="end" class="tl">60</text>
<text x="65.6" y="135.9" text-anchor="end" class="tl">80</text>
<text x="65.6" y="21.7" text-anchor="end" class="tl">100</text>
<text x="373" y="648.8" text-anchor="middle" class="at">Pressure (GPa)</text>
<text transform="translate(19.9 300.2) rotate(-90)" text-anchor="middle" class="at">C-O coordinaton (%)</text>
<text x="155.2" y="48.5" class="tk" fill="#3a409e" stroke="#3a409e">2200 K</text>
<text x="201.3" y="129.1" class="tk" fill="#0b8a36" stroke="#0b8a36">3000 K</text>
<text x="111.5" y="189.3" class="tk" fill="#000" stroke="#000">4000 K</text>
<text x="140" y="257" class="tk" fill="#cc2a22" stroke="#cc2a22">5000 K</text>
<text x="167" y="329" class="tk" fill="#8fd2de" stroke="#8fd2de" stroke-width="0.1">6000 K</text>
<path d="M352.4 43.3 H381" stroke="#000" stroke-width="2.6" stroke-dasharray="0 9" stroke-linecap="round"/>
<path d="M352.4 65.5 H379.8" stroke="#000" stroke-width="2.6"/>
<path d="M352.4 88.3 H379.6" stroke="#000" stroke-width="2.6" stroke-dasharray="10.4 6.2"/>
<text x="397.2" y="49" class="lg">5.2 wt.%</text>
<text x="389.8" y="71.5" class="lg">16.1 wt.%</text>
<text x="388.9" y="94" class="lg">30.5 wt.%</text>
<path d="M564.8 41.7 L570.8 47.7 L564.8 53.7 L558.8 47.7 Z" fill="#fff" stroke="#000" stroke-width="1.75"/>
<circle cx="564.8" cy="79.6" r="5.9" fill="#000"/>
<rect x="559.4" y="106.7" width="10.8" height="10.8" fill="#000"/>
<text x="582.8" y="51.9" class="co">CO<tspan dy="8.4" class="sub">2</tspan></text>
<text x="582.8" y="83.8" class="co">CO<tspan dy="8.4" class="sub">3</tspan></text>
<text x="582.8" y="116.6" class="co">CO<tspan dy="8.4" class="sub">4</tspan></text>
</svg>
</body></html>
